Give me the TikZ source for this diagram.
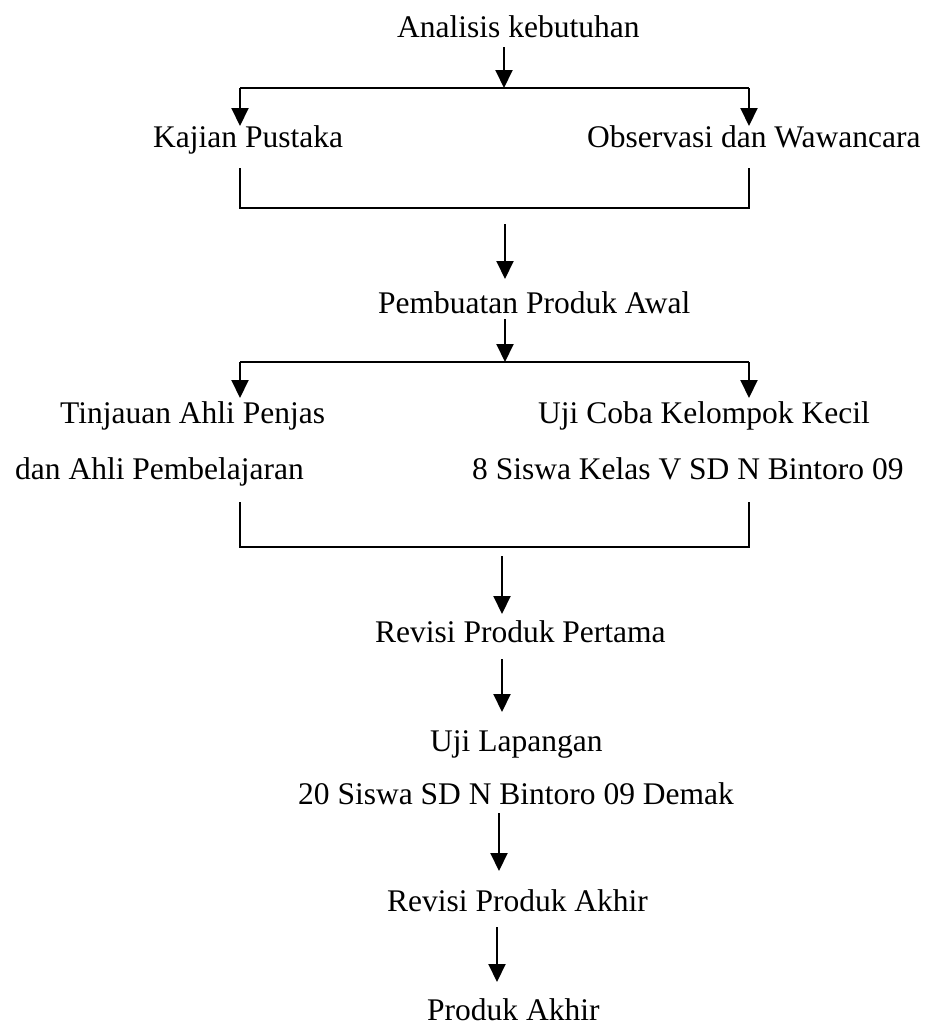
\documentclass[tikz,border=0pt]{standalone}
\usepackage{fontspec}
\setmainfont{Liberation Serif}
\usetikzlibrary{arrows.meta}
\begin{document}
\begin{tikzpicture}[x=1pt,y=-1pt,
  lbl/.style={anchor=base west,inner sep=0pt,font=\fontsize{31.5}{38}\selectfont},
  ln/.style={line width=2pt},
  arr/.style={line width=2pt,-{Triangle[width=17pt,length=18pt]}}]
\useasboundingbox (0,0) rectangle (928,1034);
% texts
\node[lbl] (analisis) at (397,37) {Analisis kebutuhan};
\node[lbl] (kajian) at (153,147) {Kajian Pustaka};
\node[lbl] (obs) at (587,147) {Observasi dan Wawancara};
\node[lbl] (buat) at (378,313) {Pembuatan Produk Awal};
\node[lbl] (tinj1) at (60,423) {Tinjauan Ahli Penjas};
\node[lbl] (tinj2) at (15,479) {dan Ahli Pembelajaran};
\node[lbl] (uji1) at (538,423) {Uji Coba Kelompok Kecil};
\node[lbl] (uji2) at (472,479) {8 Siswa Kelas V SD N Bintoro 09};
\node[lbl] (rev1) at (375,642) {Revisi Produk Pertama};
\node[lbl] (lap1) at (430,751) {Uji Lapangan};
\node[lbl] (lap2) at (298,804) {20 Siswa SD N Bintoro 09 Demak};
\node[lbl] (rev2) at (387,911) {Revisi Produk Akhir};
\node[lbl] (akhir) at (427,1020) {Produk Akhir};
% junction coordinates
\coordinate (a1s) at (504,47);
\coordinate (j1) at (504,88);
\coordinate (j1l) at (240,88);
\coordinate (j1r) at (749,88);
\coordinate (kt) at (240,126);
\coordinate (ot) at (749,126);
\coordinate (b1l) at (240,168);
\coordinate (b1r) at (749,168);
\coordinate (a2s) at (505,224);
\coordinate (a2e) at (505,279);
\coordinate (a3s) at (505,319);
\coordinate (j2) at (505,362);
\coordinate (j2l) at (240,362);
\coordinate (j2r) at (749,362);
\coordinate (tt) at (240,398);
\coordinate (ut) at (749,398);
\coordinate (b2l) at (240,502);
\coordinate (b2r) at (749,502);
\coordinate (a4s) at (502,556);
\coordinate (a4e) at (502,614);
\coordinate (a5s) at (502,659);
\coordinate (a5e) at (502,712);
\coordinate (a6s) at (499,813);
\coordinate (a6e) at (499,871);
\coordinate (a7s) at (497,927);
\coordinate (a7e) at (497,982);
% connectors
\draw[arr] (a1s) -- (j1);
\draw[ln] (j1l) -- (j1r);
\draw[arr] (j1l) -- (kt);
\draw[arr] (j1r) -- (ot);
\draw[ln] (b1l) |- (749,208) -- (b1r);
\draw[arr] (a2s) -- (a2e);
\draw[arr] (a3s) -- (j2);
\draw[ln] (j2l) -- (j2r);
\draw[arr] (j2l) -- (tt);
\draw[arr] (j2r) -- (ut);
\draw[ln] (b2l) |- (749,547) -- (b2r);
\draw[arr] (a4s) -- (a4e);
\draw[arr] (a5s) -- (a5e);
\draw[arr] (a6s) -- (a6e);
\draw[arr] (a7s) -- (a7e);
\end{tikzpicture}
\end{document}
